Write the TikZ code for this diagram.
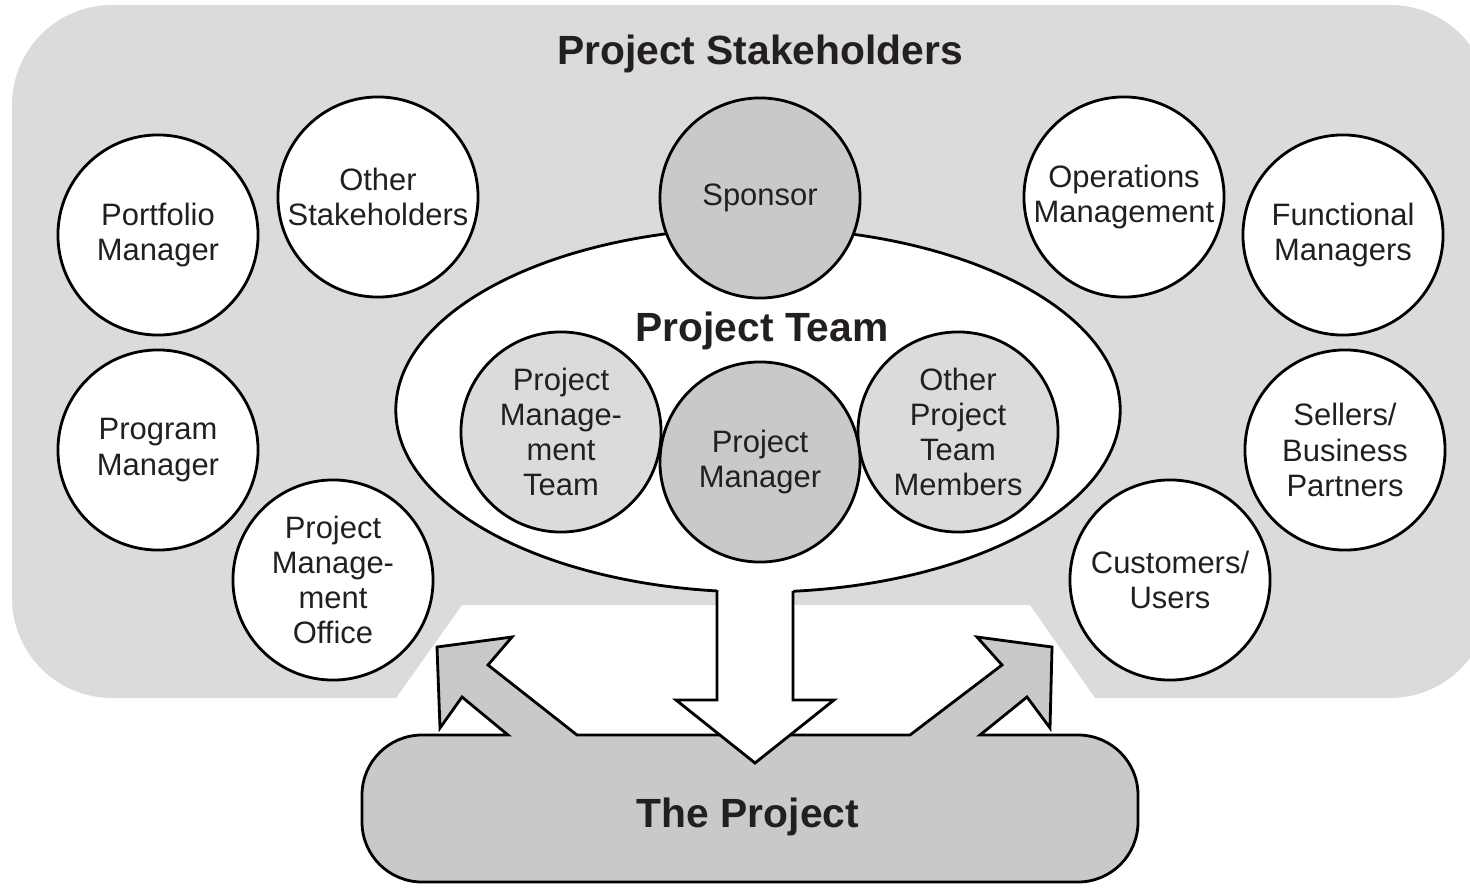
\documentclass[tikz,border=0pt]{standalone}
\usepackage{fontspec}
\setmainfont{Liberation Sans}
\usetikzlibrary{shapes.geometric}
\definecolor{bggray}{HTML}{DBDBDD}
\definecolor{darkgray}{HTML}{C8C9CB}
\definecolor{inkcol}{HTML}{231F20}
\tikzset{
  person/.style={circle, draw=black, line width=0.8pt, fill=white,
    minimum size=2cm, inner sep=0pt, align=center, text=inkcol,
    font=\fontsize{8.8}{10}\selectfont},
  keyperson/.style={person, fill=darkgray},
  member/.style={person, fill=bggray},
  heading/.style={font=\fontsize{11.6}{13}\selectfont\bfseries, text=inkcol}
}
\begin{document}
\begin{tikzpicture}[x=0.01cm, y=-0.01cm]
\useasboundingbox (0,0) rectangle (1470,888);
\clip (0,0) rectangle (1470,888);
% stakeholder area with notch
\fill [bggray] (462,605) -- (1030,605) -- (1095,698) -- (1390,698)
    arc [start angle=90, end angle=0, radius=100] -- (1490,105)
    arc [start angle=0, end angle=-90, radius=100] -- (112,5)
    arc [start angle=-90, end angle=-180, radius=100] -- (12,598)
    arc [start angle=180, end angle=90, radius=100] -- (396,698) -- cycle;
\node [heading] (stakeholders) at (760,54) {Project Stakeholders};
% outer stakeholders
\node [person] (portfolio) at (158,235) {Portfolio\\Manager};
\node [person] (otherstake) at (378,197) {Other\\Stakeholders};
\node [person] (program) at (158,450) {Program\\Manager};
\node [person] (pmo) at (333,580) {Project\\Manage-\\ment\\Office};
\node [person] (opsmgmt) at (1124,197) {Operations\\Management};
\node [person] (functional) at (1343,235) {Functional\\Managers};
\node [person] (sellers) at (1345,450) {Sellers/\\Business\\Partners};
\node [person] (customers) at (1170,580) {Customers/\\Users};
% project team
\node [ellipse, draw=black, line width=0.8pt, fill=white,
    minimum width=7.24cm, minimum height=3.64cm] (team) at (758,410) {};
\node [keyperson] (sponsor) at (760,198) {Sponsor};
\node [heading] (teamlabel) at (762,331) {Project Team};
\node [member] (pmteam) at (561,432) {Project\\Manage-\\ment\\Team};
\node [member] (othermembers) at (958,432) {Other\\Project\\Team\\Members};
\node [keyperson] (projmgr) at (760,462) {Project\\Manager};
% the project with its two arrows
\draw [fill=darkgray, line width=0.8pt] (508,735) -- (462,697) -- (440,728)
    -- (437,647) -- (512,637) -- (488,665) -- (577,735) -- (910,735)
    -- (1002,665) -- (977,637) -- (1052,647) -- (1050,728) -- (1027,697)
    -- (980,735) -- (1078,735)
    arc [start angle=-90, end angle=0, radius=60] -- (1138,822)
    arc [start angle=0, end angle=90, radius=60] -- (422,882)
    arc [start angle=90, end angle=180, radius=60] -- (362,795)
    arc [start angle=180, end angle=270, radius=60] -- cycle;
\node [heading] (project) at (748,817) {The Project};
% arrow from the team down to the project
\fill [white] (717,578) -- (717,700) -- (676,700) -- (755,763)
    -- (834,700) -- (793,700) -- (793,578) -- cycle;
\draw [line width=0.8pt, line join=miter] (717,590) -- (717,700) -- (676,700)
    -- (755,763) -- (834,700) -- (793,700) -- (793,591);
\end{tikzpicture}
\end{document}
